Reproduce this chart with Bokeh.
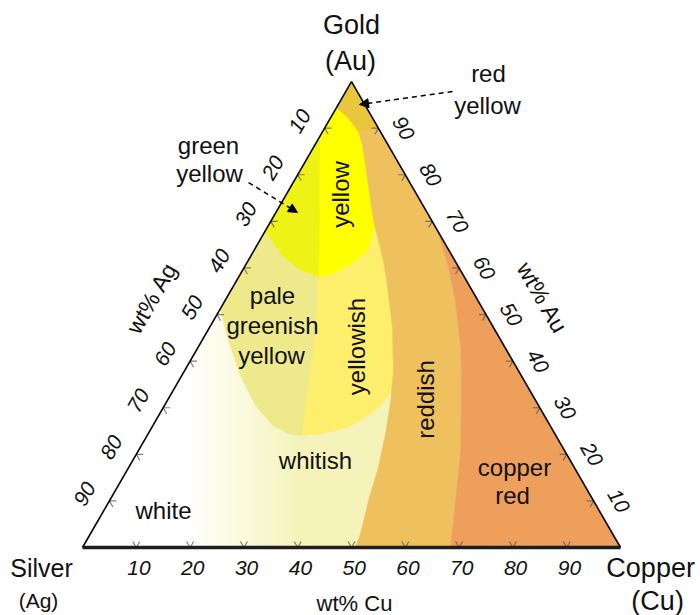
import numpy as np
from bokeh.plotting import figure
from bokeh.models import Range1d, Arrow, NormalHead
from bokeh.core.properties import value
from bokeh.embed import file_html
from bokeh.resources import INLINE

# ---------------- data (wt% Cu, wt% Au; Ag = 100 - Cu - Au) ----------------
tick_values = [10, 20, 30, 40, 50, 60, 70, 80, 90]

copper_boundary_cu = [32.0, 37.7, 42.8, 49.2, 54.6, 59.9, 64.3, 68.4]
copper_boundary_au = [68.0, 60.5, 53.0, 42.3, 31.6, 20.8, 10.1, 0.0]

copper_red_cu = copper_boundary_cu + [100.0]
copper_red_au = copper_boundary_au + [0.0]

reddish_left_cu = [50.7, 50.2, 48.1, 46.4, 44.1, 41.5, 38.8, 34.0, 27.9, 25.1, 19.0, 13.6, 8.9, 6.8]
reddish_left_au = [0.0, 3.0, 10.1, 17.2, 24.5, 31.6, 38.0, 47.2, 57.3, 61.6, 70.2, 78.8, 86.3, 89.1]
reddish_cu = reddish_left_cu + [10.1] + copper_boundary_cu
reddish_au = reddish_left_au + [89.9] + copper_boundary_au

red_yellow_cu = [0.0, 0.0, 3.4, 6.8, 10.1]
red_yellow_au = [100.0, 94.4, 92.1, 89.1, 89.9]

yellow_cu = [0.0, 3.4, 6.8, 8.9, 13.6, 19.0, 19.7, 21.1, 19.8, 17.2, 14.9, 10.2, 5.8, 0.0]
yellow_au = [94.4, 92.1, 89.1, 86.3, 78.8, 70.2, 69.5, 63.8, 61.2, 58.8, 58.0, 59.9, 62.7, 68.0]

green_yellow_cu = [0.0, 14.9, 10.2, 5.8, 0.0]
green_yellow_au = [88.2, 58.0, 59.9, 62.7, 68.0]

pale_cu = [0.0, 5.8, 10.2, 14.9, 19.9, 24.1, 26.7, 28.9, 26.5, 22.2, 16.9, 10.9, 4.9, 0.0]
pale_au = [68.0, 62.7, 59.9, 58.0, 47.2, 36.5, 29.4, 24.0, 24.3, 26.2, 30.5, 36.9, 44.4, 51.3]

yellowish_cu = [14.9, 17.2, 19.8, 21.1, 19.7, 25.1, 27.9, 34.0, 38.8, 40.8, 40.2, 38.7, 36.4, 32.9, 28.9, 26.7, 24.1, 19.9]
yellowish_au = [58.0, 58.8, 61.2, 63.8, 69.5, 61.6, 57.3, 47.2, 38.0, 33.7, 30.5, 27.9, 25.8, 24.5, 24.0, 29.4, 36.5, 47.2]

# white -> whitish gradient (x positions where it starts / ends)
white_end_x = 19.5
whitish_full_x = 41.0

SQ = np.sqrt(3) / 2


def tern(cu, au):
    cu = np.asarray(cu, float)
    au = np.asarray(au, float)
    return cu + au / 2.0, au * SQ


FONT = value("Liberation Sans")

p = figure(width=700, height=615,
           x_range=Range1d(-15.242, 114.870), y_range=Range1d(-12.639, 101.673),
           output_backend="svg", toolbar_location=None,
           x_axis_type=None, y_axis_type=None, min_border=0)
p.grid.visible = False
p.outline_line_color = None
p.background_fill_color = "white"
p.border_fill_color = "white"

# base (whitish cream) triangle
tx, ty = tern([0, 100, 0], [0, 0, 100])
p.patch(list(tx), list(ty), fill_color="#f5f3b9", line_color=None)

# white gradient overlay (single RGBA image, white with decreasing alpha)
N = 400
gx0 = -2.0
gxs = np.linspace(gx0, whitish_full_x, N)
alpha = np.clip((whitish_full_x - gxs) / (whitish_full_x - white_end_x), 0, 1)
img = np.zeros((1, N), dtype=np.uint32)
view = img.view(dtype=np.uint8).reshape((1, N, 4))
view[0, :, 0] = 255
view[0, :, 1] = 255
view[0, :, 2] = 255
view[0, :, 3] = (alpha * 255).astype(np.uint8)
p.image_rgba(image=[img], x=gx0, y=0, dw=whitish_full_x - gx0, dh=60)

regions = [
    (pale_cu, pale_au, "#eeea8b"),
    (yellowish_cu, yellowish_au, "#fdef6b"),
    (yellow_cu, yellow_au, "#ffff00"),
    (green_yellow_cu, green_yellow_au, "#eff215"),
    (red_yellow_cu, red_yellow_au, "#e9c63b"),
    (reddish_cu, reddish_au, "#efc15e"),
    (copper_red_cu, copper_red_au, "#ee9f5c"),
]
for cu, au, col in regions:
    x, y = tern(cu, au)
    p.patch(list(x), list(y), fill_color=col, line_color=col, line_width=0.5)

# ternary tick marks
L = 1.3
tv = np.array(tick_values, float)
x0s, y0s, x1s, y1s = [], [], [], []
bx, by = tern(tv, np.zeros_like(tv))
for dx, dy in [(-0.5, SQ), (0.5, SQ)]:
    x0s += list(bx); y0s += list(by); x1s += list(bx + dx * L); y1s += list(by + dy * L)
lx, ly = tern(np.zeros_like(tv), 100 - tv)
for dx, dy in [(1.0, 0.0), (0.5, -SQ)]:
    x0s += list(lx); y0s += list(ly); x1s += list(lx + dx * L); y1s += list(ly + dy * L)
rx, ry = tern(100 - tv, tv)
for dx, dy in [(-1.0, 0.0), (-0.5, -SQ)]:
    x0s += list(rx); y0s += list(ry); x1s += list(rx + dx * L); y1s += list(ry + dy * L)
p.segment(x0s, y0s, x1s, y1s, line_color="#555555", line_alpha=0.75, line_width=1.2)

# triangle edges
p.line([tx[2], tx[0]], [ty[2], ty[0]], line_color="black", line_width=1.6)
p.line([tx[2], tx[1]], [ty[2], ty[1]], line_color="black", line_width=1.6)
p.line([tx[0], tx[1]], [ty[0], ty[1]], line_color="#1e1e1e", line_width=3.5)

# tick labels
tick_txt = [str(v) for v in tick_values]
p.text(bx + 0.5, by - 3.9, text=tick_txt, text_font=FONT, text_font_size="21px",
       text_font_style="italic", text_align="center", text_baseline="middle", text_color="#111111")
p.text(lx - 4.6, ly + 1.3, text=tick_txt, text_font=FONT, text_font_size="21px",
       text_font_style="italic", text_align="center", text_baseline="middle",
       angle=np.pi / 3, text_color="#111111")
p.text(rx + 4.65, ry, text=tick_txt, text_font=FONT, text_font_size="21px",
       text_font_style="italic", text_align="center", text_baseline="middle",
       angle=-np.pi / 3, text_color="#111111")

# axis titles
p.text([12.9], [46.4], text=["wt% Ag"], text_font=FONT, text_font_size="23px",
       text_align="center", text_baseline="middle", angle=np.pi / 3, text_color="#111111")
p.text([85.5], [46.4], text=["wt% Au"], text_font=FONT, text_font_size="23px",
       text_align="center", text_baseline="middle", angle=-np.pi / 3, text_color="#111111")
p.text([50.56], [-10.4], text=["wt% Cu"], text_font=FONT, text_font_size="22px",
       text_align="center", text_baseline="middle", text_color="#111111")

# corner labels
corner_text = ["Gold", "(Au)", "Silver", "(Ag)", "Copper", "(Cu)"]
corner_x = [50.0, 49.81, -7.62, -8.18, 105.6, 106.9]
corner_y = [97.03, 90.52, -3.90, -9.9, -3.90, -9.9]
corner_size = ["27px", "27px", "25px", "21px", "27px", "27px"]
for t, x, y, s in zip(corner_text, corner_x, corner_y, corner_size):
    p.text([x], [y], text=[t], text_font=FONT, text_font_size=s,
           text_align="center", text_baseline="middle", text_color="#111111")

# region labels
reg_text = ["red", "yellow", "green", "yellow", "pale", "greenish", "yellow",
            "whitish", "white", "copper", "red"]
reg_x = [75.46, 75.28, 23.42, 23.61, 35.32, 35.32, 35.13, 43.31, 15.06, 80.30, 79.93]
reg_y = [88.10, 82.16, 74.72, 69.52, 46.84, 41.26, 35.69, 16.17, 6.88, 14.87, 9.67]
p.text(reg_x, reg_y, text=reg_text, text_font=FONT, text_font_size="24px",
       text_align="center", text_baseline="middle", text_color="#111111")

vert_text = ["yellow", "yellowish", "reddish"]
vert_x = [47.96, 50.93, 63.75]
vert_y = [65.61, 37.36, 27.51]
p.text(vert_x, vert_y, text=vert_text, text_font=FONT, text_font_size="24px",
       text_align="center", text_baseline="middle", angle=np.pi / 2, text_color="#111111")

# annotation arrows
for (xs, ys, xe, ye) in [(68.77, 84.76, 51.49, 82.34), (30.86, 67.84, 39.96, 62.27)]:
    p.add_layout(Arrow(end=NormalHead(size=9, fill_color="black", line_color="black"),
                       x_start=xs, y_start=ys, x_end=xe, y_end=ye,
                       line_color="black", line_width=1.5, line_dash="5 4"))

open("out.html", "w").write(file_html(p, INLINE))
